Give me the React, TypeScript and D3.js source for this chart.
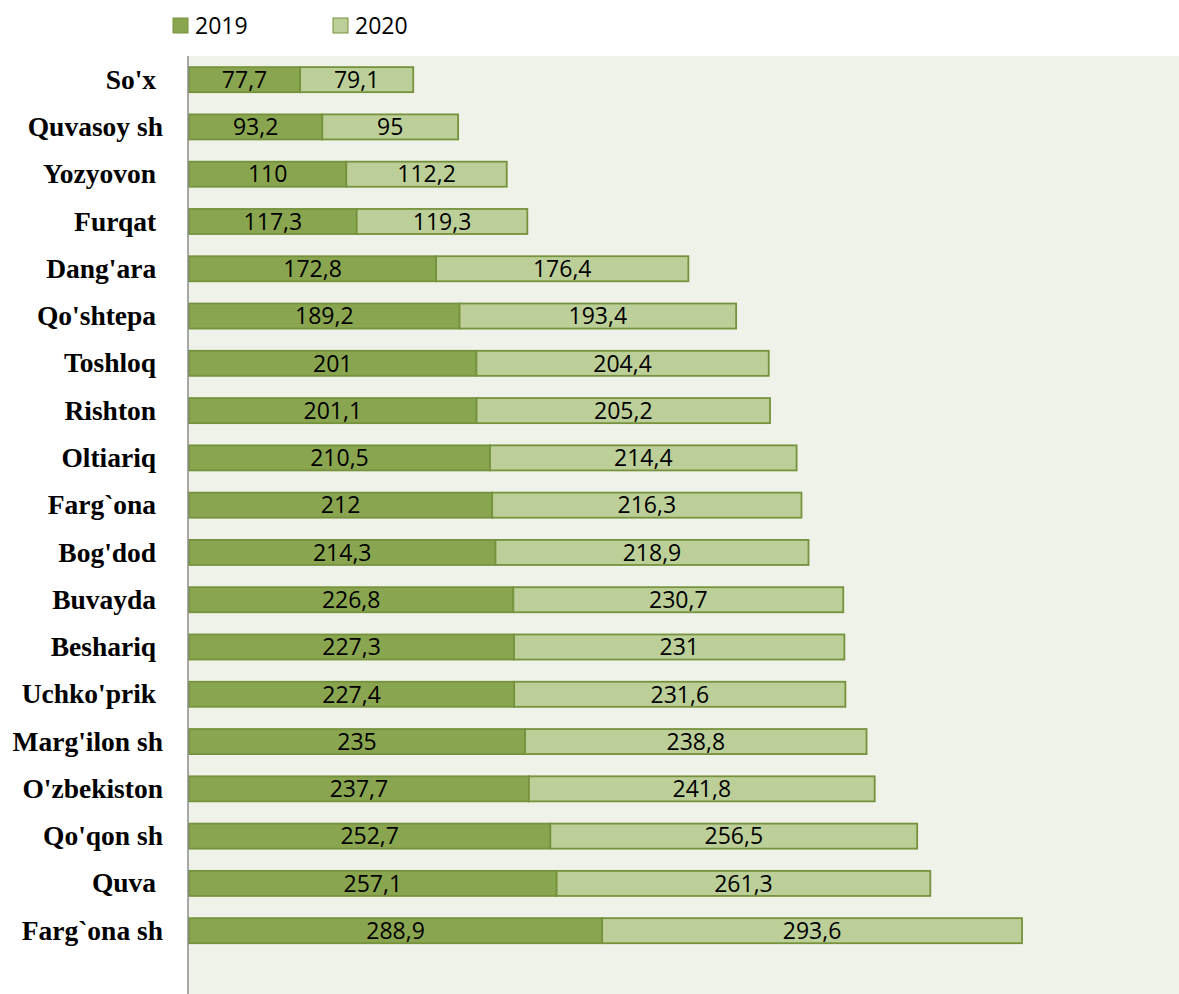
import React, { useEffect, useRef } from 'react';
import * as d3 from 'd3';

// districts, top to bottom (trailing spaces as in the source labels)
const districts = [
  "So'x ", 'Quvasoy sh', 'Yozyovon ', 'Furqat ', "Dang'ara ", "Qo'shtepa ", 'Toshloq ',
  'Rishton ', 'Oltiariq ', 'Farg`ona ', "Bog'dod ", 'Buvayda ', 'Beshariq ', "Uchko'prik ",
  "Marg'ilon sh", "O'zbekiston", "Qo'qon sh", 'Quva ', 'Farg`ona sh',
];
const values2019 = [
  77.7, 93.2, 110, 117.3, 172.8, 189.2, 201, 201.1, 210.5, 212, 214.3, 226.8, 227.3,
  227.4, 235, 237.7, 252.7, 257.1, 288.9,
];
const values2020 = [
  79.1, 95, 112.2, 119.3, 176.4, 193.4, 204.4, 205.2, 214.4, 216.3, 218.9, 230.7, 231,
  231.6, 238.8, 241.8, 256.5, 261.3, 293.6,
];
const seriesNames = ['2019', '2020'];
const colors = ['#8aa54f', '#bccf98'];

const fmt = (v: number) => String(v).replace('.', ',');

const App = () => {
  const svgRef = useRef<SVGSVGElement>(null);

  useEffect(() => {
    const width = 1179;
    const height = 994;
    const plot = { left: 188, top: 56 };

    const svg = d3.select(svgRef.current).attr('width', width).attr('height', height);
    svg.selectAll('*').remove();

    const rows = districts.map((name, i) => ({ name, a: values2019[i], b: values2020[i] }));

    const x = d3.scaleLinear().domain([0, 582.5]).range([plot.left + 1, 1022]);
    const y = d3.scaleBand().domain(districts).range([plot.top, plot.top + 47.28 * 19]).paddingInner(0.47).paddingOuter(0.235);

    svg.append('rect')
      .attr('x', plot.left).attr('y', plot.top)
      .attr('width', width - plot.left).attr('height', height - plot.top)
      .attr('fill', '#eff2e8');

    const g = svg.append('g');
    const segs = rows.flatMap((d) => [
      { name: d.name, x0: 0, x1: d.a, v: d.a, s: 0 },
      { name: d.name, x0: d.a, x1: d.a + d.b, v: d.b, s: 1 },
    ]);

    g.selectAll('rect.seg')
      .data(segs)
      .enter()
      .append('rect')
      .attr('class', 'seg')
      .attr('x', (d) => x(d.x0))
      .attr('y', (d) => y(d.name)!)
      .attr('width', (d) => x(d.x1) - x(d.x0))
      .attr('height', y.bandwidth())
      .attr('fill', (d) => colors[d.s])
      .attr('stroke', '#76923c')
      .attr('stroke-width', 1.8);

    g.selectAll('text.val')
      .data(segs)
      .enter()
      .append('text')
      .attr('class', 'val')
      .attr('x', (d) => (x(d.x0) + x(d.x1)) / 2)
      .attr('y', (d) => y(d.name)! + y.bandwidth() / 2)
      .attr('dy', '0.36em')
      .attr('text-anchor', 'middle')
      .attr('font-family', 'Open Sans, sans-serif')
      .attr('font-size', 23)
      .attr('fill', '#000')
      .text((d) => fmt(d.v));

    // category axis
    svg.append('line')
      .attr('x1', plot.left).attr('x2', plot.left)
      .attr('y1', plot.top).attr('y2', height)
      .attr('stroke', '#8c8c8c').attr('stroke-width', 1.5);

    svg.selectAll('text.cat')
      .data(districts)
      .enter()
      .append('text')
      .attr('class', 'cat')
      .attr('x', 163)
      .attr('y', (d) => y(d)! + y.bandwidth() / 2)
      .attr('dy', '0.33em')
      .attr('text-anchor', 'end')
      .attr('font-family', "'Liberation Serif', serif")
      .attr('font-weight', 'bold')
      .attr('font-size', 27.5)
      .style('white-space', 'pre')
      .text((d) => d);

    // legend
    const legX = [173, 333];
    seriesNames.forEach((s, i) => {
      svg.append('rect')
        .attr('x', legX[i]).attr('y', 18).attr('width', 15).attr('height', 15)
        .attr('fill', colors[i]).attr('stroke', '#76923c').attr('stroke-width', 1);
      svg.append('text')
        .attr('x', legX[i] + 22).attr('y', 26).attr('dy', '0.36em')
        .attr('font-family', 'Open Sans, sans-serif').attr('font-size', 23)
        .text(s);
    });
  }, []);

  return <svg ref={svgRef} style={{ position: 'absolute', left: 0, top: 0 }}></svg>;
};

export default App;
